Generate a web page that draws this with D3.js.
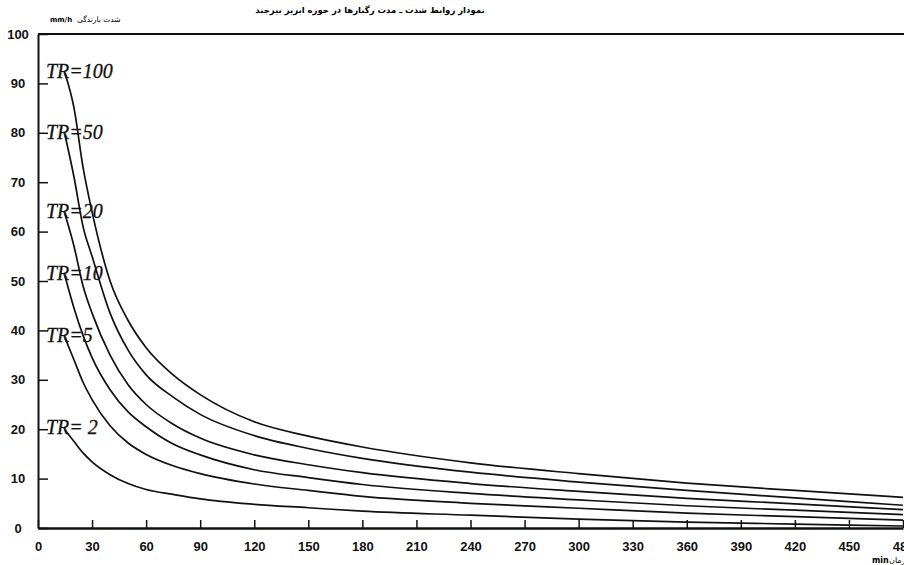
<!DOCTYPE html>
<html lang="fa">
<head>
    <meta charset="utf-8" />
    <title>IDF chart</title>
    <script src="https://d3js.org/d3.v7.min.js"></script>
    <style>
        body { margin: 0; background: #fff; }
        .axis path, .axis line { stroke: #111; }
        .axis text { font-family: "Liberation Sans", Arial, sans-serif; font-size: 13px; font-weight: bold; fill: #111; }
        .curve { fill: none; stroke: #111; stroke-width: 1.7px; }
        .trlabel { font-family: "Liberation Serif", "Times New Roman", serif; font-style: italic; font-size: 20px; fill: #111; stroke: #111; stroke-width: 0.3px; }
    </style>
</head>
<body>
<script>
    // durations (min) and intensities (mm/h)
    var durations = [15, 20, 25, 30, 40, 50, 60, 75, 90, 120, 150, 180, 240, 300, 360, 420, 480];
    var tr100 = [92, 85, 73, 64, 50, 42, 36.5, 31, 27, 21.5, 18.6, 16.4, 13.2, 11, 9.1, 7.6, 6.2];
    var tr50 = [79.5, 71, 61, 55, 43.5, 36, 31, 26.5, 23, 18.7, 16.1, 14.1, 11.3, 9.3, 7.6, 6.1, 4.6];
    var tr20 = [63.5, 57, 49, 43.5, 35, 29, 25, 21, 18.2, 14.8, 12.8, 11.2, 9.0, 7.4, 6.0, 4.9, 3.7];
    var tr10 = [51, 44.5, 39, 34.5, 28, 23.5, 20.5, 17, 14.8, 11.8, 10.2, 8.8, 7.0, 5.7, 4.5, 3.6, 2.7];
    var tr5 = [38.5, 34, 29.5, 26, 20.7, 17.2, 14.9, 12.6, 11.0, 8.9, 7.6, 6.4, 5.0, 4.0, 3.0, 2.3, 1.6];
    var tr2 = [19.8, 17.5, 15.2, 13.4, 10.8, 9.0, 7.8, 6.8, 5.9, 4.8, 4.1, 3.4, 2.6, 1.8, 1.2, 0.8, 0.4];

    var seriesNames = ["TR=100", "TR=50", "TR=20", "TR=10", "TR=5", "TR= 2"];
    var seriesValues = [tr100, tr50, tr20, tr10, tr5, tr2];

    var xTicks = d3.range(0, 481, 30);
    var yTicks = d3.range(0, 101, 10);

    var width = 904, height = 565;

    var svg = d3.select("body").append("svg")
        .attr("width", width)
        .attr("height", height);

    var x = d3.scaleLinear().domain([0, 480]).range([38, 903]);
    var y = d3.scaleLinear().domain([0, 100]).range([528, 34]);

    // title and unit captions
    svg.append("text")
        .attr("x", 370).attr("y", 13)
        .attr("text-anchor", "middle")
        .style("font-family", "DejaVu Sans")
        .style("font-weight", "bold")
        .style("font-size", "8.5px")
        .text("نمودار روابط شدت ـ مدت رگبارها در حوزه ابریز بیرجند");

    svg.append("text")
        .attr("x", 50).attr("y", 22)
        .style("font-family", "DejaVu Sans")
        .style("font-weight", "bold")
        .style("font-size", "7px")
        .text("mm/h");
    svg.append("text")
        .attr("x", 77).attr("y", 22)
        .attr("text-anchor", "start")
        .style("font-family", "DejaVu Sans")
        .style("font-size", "7.5px")
        .text("شدت بارندگی");

    svg.append("text")
        .attr("x", 872).attr("y", 563)
        .style("font-family", "DejaVu Sans")
        .style("font-weight", "bold")
        .style("font-size", "8px")
        .text("min");
    svg.append("text")
        .attr("x", 889).attr("y", 563)
        .style("font-family", "DejaVu Sans")
        .style("font-size", "8px")
        .text("زمان");

    // axes, ticks pointing inwards
    var xAxis = svg.append("g")
        .attr("class", "axis")
        .attr("transform", "translate(0," + y(0) + ")")
        .call(d3.axisBottom(x).tickValues(xTicks).tickSizeInner(-8).tickSizeOuter(0).tickPadding(14));
    xAxis.select(".domain").style("stroke-width", "2.5px");

    var yAxis = svg.append("g")
        .attr("class", "axis")
        .attr("transform", "translate(" + x(0) + ",0)")
        .call(d3.axisLeft(y).tickValues(yTicks).tickSizeInner(-10).tickSizeOuter(0).tickPadding(20));
    yAxis.selectAll(".tick text").attr("text-anchor", "middle");
    yAxis.select(".domain").style("stroke-width", "2px");
    yAxis.selectAll(".tick line").style("stroke-width", "1.5px");
    xAxis.selectAll(".tick line").style("stroke-width", "1.5px");

    // top frame line
    svg.append("line")
        .attr("x1", x(0)).attr("x2", width)
        .attr("y1", y(100)).attr("y2", y(100))
        .style("stroke", "#111").style("stroke-width", "2px");

    var line = d3.line()
        .x(function (d) { return x(d[0]); })
        .y(function (d) { return y(d[1]); })
        .curve(d3.curveMonotoneX);

    seriesValues.forEach(function (vals, i) {
        var pts = durations.map(function (t, j) { return [t, vals[j]]; });
        svg.append("path")
            .attr("class", "curve")
            .attr("d", line(pts));

        svg.append("text")
            .attr("class", "trlabel")
            .attr("x", x(0) + 8)
            .attr("y", y(vals[0]) + 4)
            .text(seriesNames[i]);
    });
</script>
</body>
</html>
